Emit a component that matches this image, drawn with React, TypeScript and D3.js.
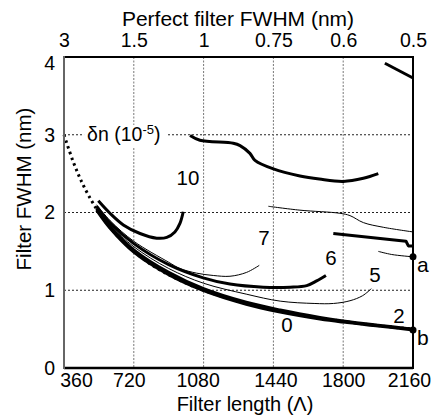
import React, { useEffect, useRef } from "react";
import * as d3 from "d3";

// filter length ticks (bottom) and the matching perfect filter FWHM (top)
const lengthTicks = [360, 720, 1080, 1440, 1800, 2160];
const perfectLabels = ["3", "1.5", "1", "0.75", "0.6", "0.5"];
const fwhmTicks = [0, 1, 2, 3, 4];

// [filter length, FWHM nm]
const perfect = [[360, 3.0], [405, 2.67], [450, 2.4], [500, 2.16], [540, 2.0], [600, 1.8], [660, 1.64], [720, 1.5], [810, 1.33], [900, 1.2], [990, 1.09], [1080, 1.0], [1260, 0.857], [1440, 0.75], [1620, 0.667], [1800, 0.6], [1980, 0.545], [2160, 0.5]];
const dn0 = [[528, 2.03], [600, 1.79], [720, 1.49], [900, 1.2], [1080, 0.995], [1300, 0.82], [1475, 0.72], [1680, 0.63], [1800, 0.59], [1980, 0.54], [2160, 0.49]];
const dn2 = [[528, 2.05], [600, 1.81], [720, 1.52], [900, 1.23], [1080, 1.02], [1300, 0.845], [1475, 0.745], [1680, 0.65], [1800, 0.605], [1980, 0.55], [2160, 0.5]];
const dn5 = [[528, 2.06], [600, 1.83], [720, 1.56], [900, 1.28], [1080, 1.09], [1300, 0.95], [1475, 0.86], [1650, 0.83], [1750, 0.83], [1835, 0.865], [1900, 0.93], [1945, 1.02]];
const dn6 = [[528, 2.08], [600, 1.86], [720, 1.6], [900, 1.33], [1078, 1.16], [1216, 1.08], [1388, 1.04], [1526, 1.04], [1612, 1.06], [1663, 1.12], [1711, 1.19]];
const dn7 = [[528, 2.1], [600, 1.89], [720, 1.63], [900, 1.36], [958, 1.28], [1044, 1.22], [1130, 1.19], [1216, 1.18], [1302, 1.23], [1367, 1.32]];
const dn10 = [[537, 2.15], [597, 1.99], [666, 1.84], [752, 1.73], [838, 1.67], [890, 1.68], [932, 1.75], [958, 1.86], [975, 2.01]];
const upperThick = [[1010, 2.99], [1061, 2.93], [1233, 2.89], [1268, 2.86], [1319, 2.76], [1345, 2.67], [1440, 2.56], [1577, 2.47], [1677, 2.43], [1800, 2.4], [1904, 2.44], [1981, 2.5]];
const upperThin = [[1414, 2.08], [1577, 2.03], [1783, 1.99], [1835, 1.96], [1904, 1.87], [2007, 1.81], [2160, 1.75]];
const stepThick = [[1749, 1.73], [2124, 1.63], [2136, 1.57], [2160, 1.57]];
const shortThin = [[1981, 1.5], [2050, 1.46], [2160, 1.43]];
const topThick = [[2015, 3.92], [2160, 3.73]];
const endPoints = [[2160, 1.43, "a"], [2160, 0.49, "b"]];

const curveLabels = [["10", 999, 2.35], ["7", 1391, 1.58], ["6", 1737, 1.32], ["5", 1964, 1.11], ["2", 2088, 0.58], ["0", 1510, 0.46]];

const FONT = "'Liberation Sans', Arial, Helvetica, sans-serif";

export default function App() {
  const ref = useRef<SVGSVGElement>(null);

  useEffect(() => {
    const width = 433;
    const height = 418;
    const margin = { top: 57, right: 20, bottom: 50, left: 64 };
    const innerWidth = width - margin.left - margin.right;
    const innerHeight = height - margin.top - margin.bottom;

    const svg = d3.select(ref.current).attr("width", width).attr("height", height);
    svg.selectAll("*").remove();
    const g = svg.append("g").attr("transform", `translate(${margin.left},${margin.top})`);

    const x = d3.scaleLinear().domain([360, 2160]).range([0, innerWidth]);
    const y = d3.scaleLinear().domain([0, 4]).range([innerHeight, 0]);

    // grid
    g.selectAll(".hgrid").data([1, 2, 3]).join("line").attr("class", "hgrid")
      .attr("x1", 0).attr("x2", innerWidth).attr("y1", d => y(d)).attr("y2", d => y(d))
      .attr("stroke", "#222").attr("stroke-width", 1).attr("stroke-dasharray", "2,2");
    g.selectAll(".vgrid").data([720, 1080, 1440, 1800]).join("line").attr("class", "vgrid")
      .attr("y1", 0).attr("y2", innerHeight).attr("x1", d => x(d)).attr("x2", d => x(d))
      .attr("stroke", "#777").attr("stroke-width", 1).attr("stroke-dasharray", "2,1.5");

    // axes
    const bottom = g.append("g").attr("transform", `translate(0,${innerHeight})`)
      .call(d3.axisBottom(x).tickValues(lengthTicks).tickSize(0).tickPadding(5).tickFormat(d3.format("d")));
    const top = g.append("g")
      .call(d3.axisTop(x).tickValues(lengthTicks).tickSize(0).tickPadding(10).tickFormat((d, i) => perfectLabels[i]));
    const left = g.append("g")
      .call(d3.axisLeft(y).tickValues(fwhmTicks).tickSize(0).tickPadding(9).tickFormat(d3.format("d")));
    [bottom, top, left].forEach(a => {
      a.select(".domain").remove();
      a.selectAll("text").attr("font-family", FONT).attr("font-size", 19.5).attr("fill", "#000");
    });
    left.selectAll(".tick text").filter(d => d === 4).attr("dy", "0.62em");
    // bottom labels sit a little off their ticks, the first one clear of the 0
    const shifts = [12, -5, -6, 2, 0, -4];
    bottom.selectAll(".tick text").attr("dx", (d, i) => shifts[i]);

    const line = d3.line().x(d => x(d[0])).y(d => y(d[1])).curve(d3.curveCatmullRom.alpha(0.5));
    const straight = d3.line().x(d => x(d[0])).y(d => y(d[1]));

    // perfect filter, dotted
    g.append("path").attr("d", line(perfect)).attr("fill", "none").attr("stroke", "#000")
      .attr("stroke-width", 3).attr("stroke-dasharray", "2.5,3.5");

    const series = [
      [dn0, 3, line], [dn2, 3, line], [dn5, 1, line], [dn6, 3, line], [dn7, 1, line], [dn10, 3, line],
      [upperThick, 3, line], [upperThin, 1, line], [stepThick, 3, straight], [shortThin, 1, line], [topThick, 3, straight],
    ];
    series.forEach(([data, w, gen]: any) => {
      g.append("path").attr("d", gen(data)).attr("fill", "none").attr("stroke", "#000")
        .attr("stroke-width", w).attr("stroke-linejoin", "round");
    });

    // frame: left side grey, the rest black
    g.append("path").attr("d", `M0,0H${innerWidth}V${innerHeight}H0`).attr("fill", "none")
      .attr("stroke", "#000").attr("stroke-width", 2);
    g.append("line").attr("x1", 0).attr("x2", innerWidth).attr("y1", innerHeight).attr("y2", innerHeight)
      .attr("stroke", "#000").attr("stroke-width", 2.6);
    g.append("line").attr("x1", 0).attr("x2", 0).attr("y1", -1).attr("y2", innerHeight + 1)
      .attr("stroke", "#666").attr("stroke-width", 2);

    g.selectAll(".endpt").data(endPoints).join("circle").attr("class", "endpt")
      .attr("cx", d => x(d[0])).attr("cy", d => y(d[1])).attr("r", 3.5).attr("fill", "#000");
    g.selectAll(".endlbl").data(endPoints).join("text").attr("class", "endlbl")
      .attr("x", d => x(d[0]) + 4).attr("y", d => y(d[1]) + 15)
      .attr("font-family", FONT).attr("font-size", 21).text(d => d[2]);

    g.selectAll(".clbl").data(curveLabels).join("text").attr("class", "clbl")
      .attr("x", d => x(d[1])).attr("y", d => y(d[2])).attr("text-anchor", "middle")
      .attr("font-family", FONT).attr("font-size", 20.5).text(d => d[0]);

    // delta n legend label on the y=3 grid line
    const lx = x(479), ly = y(2.92);
    g.append("rect").attr("x", lx - 3).attr("y", ly - 16).attr("width", 82).attr("height", 22).attr("fill", "#fff");
    const t = g.append("text").attr("x", lx).attr("y", ly).attr("font-family", FONT).attr("font-size", 19.5);
    t.append("tspan").text("\u03b4n (10");
    t.append("tspan").attr("dy", -7).attr("font-size", 13).text("-5");
    t.append("tspan").attr("dy", 7).text(")");

    // titles
    svg.append("text").attr("x", 245).attr("y", 411).attr("text-anchor", "middle")
      .attr("font-family", FONT).attr("font-size", 20).text("Filter length (\u039b)");
    svg.append("text").attr("x", 238).attr("y", 26).attr("text-anchor", "middle")
      .attr("font-family", FONT).attr("font-size", 21).text("Perfect filter FWHM (nm)");
    svg.append("text").attr("transform", "rotate(-90)").attr("x", -189).attr("y", 31).attr("text-anchor", "middle")
      .attr("font-family", FONT).attr("font-size", 20.5).text("Filter FWHM (nm)");
  }, []);

  return <svg ref={ref} style={{ position: "absolute", left: 0, top: 0 }} />;
}
